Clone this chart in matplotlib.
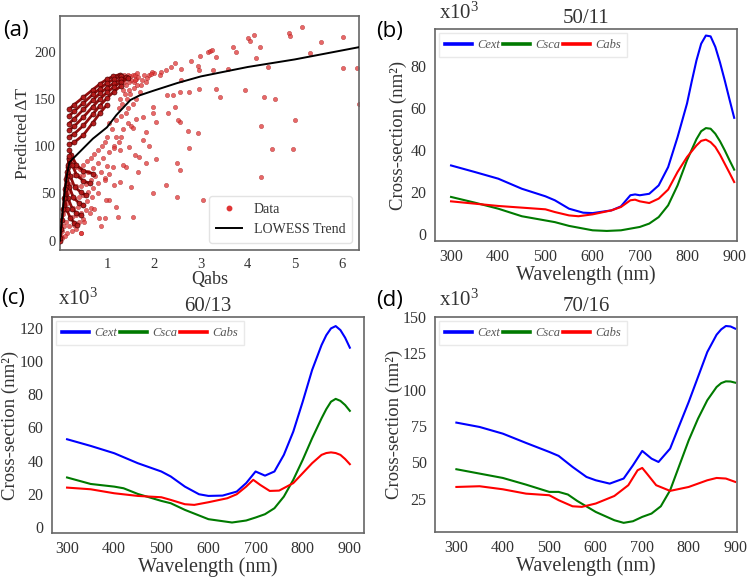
import matplotlib
matplotlib.use("Agg")
import matplotlib.pyplot as plt
from matplotlib.lines import Line2D

plt.rcParams['font.family'] = ['Liberation Serif', 'DejaVu Serif']
plt.rcParams['mathtext.fontset'] = 'stix'

# ---------------- Panel (a) data ----------------
# dense arcs (Qabs, predicted dT)
arc_q = [
    [0.19, 0.3, 0.5, 0.7, 0.85, 1.0, 1.13, 1.27],
    [0.19, 0.3, 0.5, 0.7, 0.85, 1.0, 1.15, 1.3],
    [0.19, 0.3, 0.5, 0.7, 0.85, 1.0, 1.15, 1.3, 1.4],
    [0.19, 0.3, 0.5, 0.7, 0.85, 1.0, 1.15, 1.3, 1.45],
    [0.19, 0.3, 0.5, 0.7, 0.85, 1.0, 1.15, 1.3],
    [0.19, 0.3, 0.5, 0.7, 0.85, 1.0],
    [0.2, 0.24, 0.35, 0.5, 0.7],
    [0.19, 0.26, 0.35, 0.5, 0.63],
    [0.17, 0.22, 0.31, 0.45, 0.56],
    [0.15, 0.2, 0.28, 0.4, 0.49],
    [0.12, 0.17, 0.26, 0.35, 0.44],
    [0.1, 0.14, 0.22, 0.3, 0.37],
    [0.0, 0.01, 0.03, 0.05, 0.07, 0.09, 0.11, 0.13, 0.15, 0.17, 0.19, 0.2],
]
arc_t = [
    [139, 144, 152, 160, 166, 171, 174, 176],
    [132, 137, 146, 155, 161, 167, 171, 174],
    [124, 129, 139, 149, 156, 162, 167, 171, 173],
    [117, 121, 131, 142, 150, 157, 163, 168, 172],
    [110, 113, 122, 134, 143, 151, 158, 164],
    [102, 104, 112, 125, 135, 144],
    [96, 91, 80, 74, 71],
    [88, 80, 70, 63, 61],
    [78, 68, 57, 51, 48],
    [68, 57, 46, 40, 38],
    [57, 45, 34, 29, 27],
    [45, 33, 24, 19, 17],
    [0, 3, 12, 22, 33, 45, 55, 65, 73, 80, 87, 90],
]

scatter_q = [
    0.25, 0.3, 0.35, 0.42, 0.5, 0.58, 0.65, 0.72, 0.8, 0.9,
    0.3, 0.4, 0.5, 0.6, 0.7, 0.8, 0.92, 1.05,
    0.35, 0.45, 0.55, 0.65, 0.75, 0.87, 1.0,
    0.3, 0.4, 0.5, 0.6, 0.7, 0.82, 0.95,
    0.28, 0.38, 0.48, 0.58, 0.68, 0.8,
    0.25, 0.35, 0.45, 0.55, 0.65,
    0.2, 0.3, 0.4, 0.5,
    0.15, 0.25, 0.35, 0.45,
    0.1, 0.05, 0.08, 0.12, 0.06, 0.1, 0.14, 0.04, 0.02, 0.16, 0.2, 0.13,
    1.05, 1.1, 1.2, 1.25, 1.28, 1.33, 1.35, 1.38, 1.4, 1.42, 1.45, 1.48, 1.5,
    1.55, 1.58, 1.62, 1.65, 1.7, 1.75, 1.8, 1.85, 1.9, 2.0, 1.3, 1.35, 1.45,
    1.2, 1.25, 0.95, 1.0, 1.15,
    1.3, 1.33, 1.36, 1.4, 1.37, 1.45, 1.5, 1.52, 1.48, 1.55, 1.6, 1.62, 1.58, 1.67,
    2.99, 3.15, 3.2, 3.24, 3.33, 3.26, 2.78, 2.94, 2.96, 2.58, 2.55, 2.75, 2.96,
    3.33, 3.4, 3.58, 3.68, 3.74, 4.0, 4.05, 4.14, 4.25, 4.18, 4.43, 4.34, 3.95,
    4.59, 4.29, 4.28, 4.52, 4.96, 5.0, 4.88, 4.91, 5.16, 5.32, 5.55, 6.02, 6.02,
    6.33, 6.36, 3.04, 2.94, 2.72, 2.74, 2.55, 2.51, 2.44, 2.49, 2.55, 2.5, 2.25,
    1.99, 2.05, 1.83, 2.05, 2.3, 2.28, 2.4, 2.58, 2.46, 2.37, 2.26, 2.15, 2.12,
    1.97, 1.94, 1.83, 1.73, 1.64, 1.59, 1.76, 1.83, 1.98, 1.98, 1.76, 1.9, 1.66,
    1.55, 1.52, 1.23, 1.19, 0.84, 0.95, 0.87, 1.41, 1.35, 1.48, 1.6, 1.69, 1.27,
    1.51, 1.55, 1.62, 1.41, 1.3, 1.16, 1.12, 1.05, 0.98, 1.27, 1.16, 0.73, 0.63,
    0.52, 0.45, 1.05, 0.95,
]
scatter_t = [
    85, 80, 78, 76, 80, 84, 88, 92, 96, 100,
    70, 68, 70, 73, 77, 82, 88, 94,
    58, 58, 60, 64, 68, 73, 79,
    45, 46, 48, 52, 56, 61, 66,
    35, 36, 38, 42, 46, 50,
    25, 27, 29, 32, 35,
    15, 17, 20, 23,
    8, 10, 12, 8,
    5, 3, 15, 20, 28, 32, 40, 10, 5, 52, 60, 48,
    125, 118, 128, 140, 150, 145, 160, 155, 165, 150, 140, 160, 155,
    145, 162, 150, 165, 158, 170, 175, 172, 176, 178, 132, 118, 125,
    110, 105, 105, 110, 100,
    170, 174, 176, 173, 168, 176, 174, 170, 168, 176, 175, 171, 168, 173,
    196, 200, 201, 202, 195, 181, 190, 185, 181, 170, 158, 158, 161,
    161, 152, 182, 205, 200, 215, 212, 218, 205, 193, 184, 152, 160,
    150, 121, 67, 97, 97, 128, 220, 217, 226, 199, 210, 216, 183,
    183, 145, 43, 114, 116, 98, 126, 128, 142, 82, 75, 46, 59,
    50, 87, 82, 126, 135, 154, 154, 182, 188, 184, 181, 179, 175,
    179, 177, 168, 165, 178, 170, 107, 115, 142, 135, 131, 100, 73,
    25, 57, 25, 36, 24, 24, 15, 78, 80, 99, 91, 89, 96,
    121, 119, 129, 135, 110, 98, 78, 43, 43, 62, 59, 34, 29,
    20, 8, 71, 64,
]

lowess_q = [0.0, 0.05, 0.1, 0.15, 0.2, 0.3, 0.5, 0.7, 1.0, 1.2, 1.5, 1.7,
            2.0, 2.5, 3.0, 3.5, 4.0, 5.0, 6.37]
lowess_t = [0, 28, 52, 70, 83, 88, 98, 108, 120, 133, 149, 154,
            159, 167, 174, 179, 184, 192, 205]

# ---------------- Panels (b)-(d) data ----------------
b_ext_w = [300, 350, 400, 450, 500, 520, 550, 580, 600, 640, 660, 680, 690, 700,
           720, 740, 760, 780, 800, 810, 820, 830, 840, 850, 860, 870, 880, 890, 900]
b_ext = [32.5, 29.4, 26.2, 21.4, 17.8, 15.9, 11.9, 10.0, 9.8, 11.1, 13.0, 18.3, 18.7,
         18.3, 19.0, 23.0, 31.7, 46.0, 62.0, 72.5, 82.5, 90.5, 94.4, 94.0, 89.0,
         81.5, 73.0, 64.0, 55.2]
b_sca_w = [300, 350, 400, 450, 500, 520, 550, 600, 630, 660, 700, 720, 740, 760,
           780, 800, 820, 830, 840, 850, 860, 870, 880, 890, 900]
b_sca = [17.5, 14.8, 11.9, 8.3, 6.3, 5.5, 3.7, 1.6, 1.3, 1.6, 3.2, 4.8, 7.9, 13.5,
         23.0, 35.0, 45.0, 48.8, 50.3, 50.0, 47.6, 44.0, 39.7, 35.0, 30.5]
b_abs_w = [300, 350, 400, 450, 500, 520, 550, 570, 600, 640, 660, 680, 690, 700,
           720, 740, 760, 780, 800, 820, 830, 840, 850, 860, 870, 880, 890, 900]
b_abs = [15.4, 14.3, 13.2, 12.4, 11.6, 10.3, 8.7, 8.3, 9.2, 11.1, 12.7, 15.9, 16.2,
         15.4, 14.6, 16.7, 21.0, 29.4, 36.5, 42.0, 44.2, 44.8, 43.6, 41.3, 37.6,
         33.3, 29.0, 24.6]

c_ext_w = [300, 350, 400, 450, 500, 520, 550, 580, 600, 630, 660, 680, 700, 720,
           740, 760, 780, 800, 820, 840, 850, 860, 870, 880, 890, 900]
c_ext = [52.9, 48.9, 44.5, 38.5, 33.5, 30.5, 24.4, 19.8, 18.8, 19.0, 21.4, 26.5,
         33.5, 31.0, 33.5, 43.5, 57.5, 75.5, 94.6, 109.6, 115.5, 119.6, 121.0,
         118.6, 114.0, 108.0]
c_sca_w = [300, 350, 400, 420, 450, 500, 520, 550, 600, 650, 680, 700, 720, 740,
           760, 780, 800, 820, 840, 850, 860, 870, 880, 890, 900]
c_sca = [29.9, 26.0, 24.4, 23.4, 20.0, 15.8, 14.4, 10.4, 4.8, 2.8, 4.0, 5.8, 7.8,
         11.4, 18.4, 28.5, 40.5, 53.5, 65.5, 71.0, 75.5, 77.2, 76.0, 73.5, 70.0]
c_abs_w = [300, 350, 400, 450, 500, 520, 550, 570, 600, 640, 660, 680, 695, 710,
           730, 750, 780, 800, 820, 840, 850, 860, 870, 880, 890, 900]
c_abs = [23.8, 22.8, 20.4, 18.8, 18.0, 16.4, 13.8, 13.4, 15.0, 17.4, 19.8, 24.4,
         28.5, 25.4, 21.8, 22.0, 26.5, 32.5, 38.5, 43.5, 44.6, 45.0, 44.6, 43.5,
         41.0, 37.9]

d_ext_w = [300, 350, 400, 450, 500, 520, 550, 580, 600, 630, 660, 680, 700, 720,
           735, 760, 780, 800, 820, 840, 860, 870, 880, 890, 900]
d_ext = [77.3, 74.3, 69.7, 63.3, 57.1, 54.4, 46.8, 39.9, 37.6, 35.3, 38.8, 47.9,
         57.8, 52.5, 50.2, 59.4, 75.5, 91.5, 108.7, 125.9, 137.8, 141.5, 143.8,
         143.5, 142.0]
d_sca_w = [300, 350, 400, 450, 500, 520, 540, 560, 600, 640, 660, 680, 700, 720,
           740, 760, 780, 800, 820, 840, 860, 870, 880, 890, 900]
d_sca = [45.2, 42.2, 39.2, 34.6, 29.6, 29.6, 27.8, 23.4, 15.8, 10.1, 8.3, 9.4, 12.4,
         14.7, 19.7, 30.7, 47.9, 65.1, 80.0, 92.7, 101.8, 104.5, 105.7, 105.6, 104.8]
d_abs_w = [300, 350, 400, 450, 500, 520, 550, 570, 600, 640, 670, 690, 700, 710,
           730, 760, 800, 840, 860, 880, 900]
d_abs = [33.0, 33.5, 31.4, 28.4, 27.3, 23.9, 19.7, 19.3, 21.6, 26.8, 34.2, 44.5,
         46.1, 42.2, 34.2, 30.3, 33.0, 37.6, 39.2, 38.8, 36.5]

wl_ticks = [300, 400, 500, 600, 700, 800, 900]

SPINE = '#666666'
TXT = '#333333'


def style(ax, pad=6):
    for s in ax.spines.values():
        s.set_color(SPINE)
        s.set_linewidth(1.2)
    ax.tick_params(length=0, labelcolor=TXT, pad=pad)


fig = plt.figure(figsize=(7.5, 5.77), dpi=100)

# ---- (a) ----
axa = fig.add_axes([0.080, 0.5667, 0.3987, 0.4055])
style(axa, pad=3)
axa.tick_params(axis='x', pad=6)
axa.scatter(scatter_q, scatter_t, s=10, color='#e03535', alpha=0.75,
            edgecolors='#a01515', linewidths=0.3, zorder=2)
for q, t in zip(arc_q, arc_t):
    axa.plot(q, t, color='#8b0000', lw=2.0, alpha=0.95, marker='o', markersize=3.6,
             markerfacecolor='#b51a1a', markeredgecolor='#4a0000', markeredgewidth=0.5,
             solid_capstyle='round', zorder=3)
axa.plot(lowess_q, lowess_t, color='black', lw=1.4, zorder=4)
axa.set_xlim(0, 6.37)
axa.set_ylim(-10, 238)
axa.set_xticks([1, 2, 3, 4, 5, 6])
axa.set_yticks([0, 50, 100, 150, 200])
axa.tick_params(labelsize=10.5)
axa.set_xlabel('Qabs', fontsize=13, color=TXT, labelpad=0)
axa.set_ylabel('Predicted ΔT', fontsize=12.5, color=TXT)
axa.yaxis.set_label_coords(-0.097, 0.5)
handles = [Line2D([], [], marker='o', ls='none', color='#e03535', markersize=3.2),
           Line2D([], [], color='black', lw=1.4)]
leg = axa.legend(handles, ['Data', 'LOWESS Trend'], loc='lower right', fontsize=10,
                 frameon=True, edgecolor='#dddddd', fancybox=True, handlelength=1.9,
                 borderpad=0.5, labelspacing=0.5, handletextpad=0.8)
for t in leg.get_texts():
    t.set_color(TXT)

fig.text(0.004, 0.948, '(a)', fontsize=16, family='Open Sans', ha='left', va='center')


def spectra(rect, ext, sca, absn, xlim, ylim, yticks, title, label, lab_xy, x10_xy, ylab_x):
    ax = fig.add_axes(rect)
    style(ax)
    ax.plot(ext[0], ext[1], color='#0000ff', lw=1.5, label='Cext')
    ax.plot(sca[0], sca[1], color='#007a00', lw=1.5, label='Csca')
    ax.plot(absn[0], absn[1], color='#ff0000', lw=1.5, label='Cabs')
    ax.set_xlim(*xlim)
    ax.set_ylim(*ylim)
    ax.set_xticks(wl_ticks)
    ax.set_yticks(yticks)
    ax.tick_params(labelsize=11.5)
    ax.set_xlabel('Wavelength (nm)', fontsize=14.5, color=TXT, labelpad=0)
    ax.set_ylabel('Cross-section (nm²)', fontsize=13.5, color=TXT)
    ax.yaxis.set_label_coords(ylab_x, 0.5)
    ax.set_title(title, fontsize=15, color=TXT, pad=4)
    leg = ax.legend(loc='upper left', ncol=3, frameon=True,
                    edgecolor='#e4e4e4', fancybox=False, handlelength=2.2,
                    handletextpad=0.4, columnspacing=0.2, borderpad=0.5,
                    borderaxespad=0.3, prop={'style': 'italic', 'size': 9})
    for ln in leg.get_lines():
        ln.set_linewidth(2.6)
    for t in leg.get_texts():
        t.set_color('#555555')
    fig.text(lab_xy[0], lab_xy[1], label, fontsize=16, family='Open Sans',
             ha='left', va='center')
    fig.text(x10_xy[0], x10_xy[1], r'x10$^{\mathregular{3}}$', fontsize=15,
             color=TXT, ha='left', va='center')
    return ax


spectra([0.58, 0.5823, 0.4027, 0.3674], (b_ext_w, b_ext), (b_sca_w, b_sca),
        (b_abs_w, b_abs), (266, 906), (-3.5, 97.5), [0, 20, 40, 60, 80],
        '50/11', '(b)', (0.502, 0.945), (0.585, 0.977), -0.093)
spectra([0.0693, 0.0763, 0.416, 0.3744], (c_ext_w, c_ext), (c_sca_w, c_sca),
        (c_abs_w, c_abs), (268, 930), (-3.5, 126.5), [0, 20, 40, 60, 80, 100, 120],
        '60/13', '(c)', (0.002, 0.482), (0.077, 0.482), -0.106)
spectra([0.58, 0.078, 0.4027, 0.3726], (d_ext_w, d_ext), (d_sca_w, d_sca),
        (d_abs_w, d_abs), (254, 904), (2, 150), [25, 50, 75, 100, 125, 150],
        '70/16', '(d)', (0.502, 0.48), (0.585, 0.48), -0.106)

fig.savefig('out.png', dpi=100)
